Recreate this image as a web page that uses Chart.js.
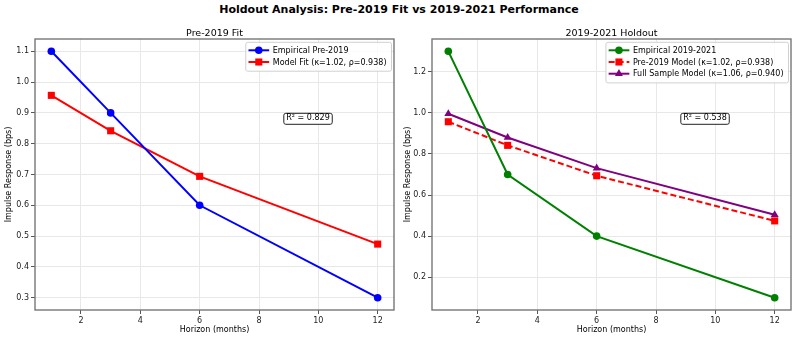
<!DOCTYPE html>
<html>
<head>
<meta charset="utf-8">
<script src="https://cdn.jsdelivr.net/npm/chart.js@4.4.0/dist/chart.umd.min.js"></script>
<style>
  body { margin: 0; background: #fff; }
  #wrap { position: relative; width: 798px; height: 340px; font-family: "DejaVu Sans", sans-serif; }
  #title { position: absolute; left: 0; top: 4px; width: 798px; text-align: center; font-weight: bold; font-size: 11px; line-height: 1.164; color: #000; }
  .panel { position: absolute; top: 20px; width: 399px; height: 320px; }
</style>
</head>
<body>
<div id="wrap">
  <div id="title">Holdout Analysis: Pre-2019 Fit vs 2019-2021 Performance</div>
  <div class="panel" style="left:0"><canvas id="leftChart" width="399" height="320"></canvas></div>
  <div class="panel" style="left:399px"><canvas id="rightChart" width="399" height="320"></canvas></div>
</div>
<script>
// horizons (months)
const horizons = [1, 3, 6, 12];
const xTicks = [2, 4, 6, 8, 10, 12];

// pre-2019 panel
const empiricalPre = [1.1, 0.9, 0.6, 0.3];
const modelFitPre = [0.957, 0.842, 0.694, 0.474];
const yTicksLeft = [0.3, 0.4, 0.5, 0.6, 0.7, 0.8, 0.9, 1.0, 1.1];

// 2019-2021 holdout panel
const empiricalHoldout = [1.3, 0.7, 0.4, 0.1];
const pre2019Model = [0.957, 0.842, 0.694, 0.474];
const fullSampleModel = [0.996, 0.880, 0.731, 0.504];
const yTicksRight = [0.2, 0.4, 0.6, 0.8, 1.0, 1.2];

const FONT = '"DejaVu Sans", sans-serif';
const SPINE = '#777';

const toPoints = vals => horizons.map((h, i) => ({ x: h, y: vals[i] }));

function drawMarker(ctx, style, x, y, r, color) {
  ctx.fillStyle = color;
  ctx.beginPath();
  if (style === 'circle') {
    ctx.arc(x, y, r, 0, Math.PI * 2);
  } else if (style === 'rect') {
    const s = r * Math.SQRT1_2;
    ctx.rect(x - s, y - s, 2 * s, 2 * s);
  } else {
    const h = r * 1.5;
    ctx.moveTo(x, y - h * 2 / 3);
    ctx.lineTo(x + r * 0.866, y + h / 3);
    ctx.lineTo(x - r * 0.866, y + h / 3);
    ctx.closePath();
  }
  ctx.fill();
}

function roundRect(ctx, x, y, w, h, r) {
  ctx.beginPath();
  ctx.moveTo(x + r, y);
  ctx.lineTo(x + w - r, y);
  ctx.quadraticCurveTo(x + w, y, x + w, y + r);
  ctx.lineTo(x + w, y + h - r);
  ctx.quadraticCurveTo(x + w, y + h, x + w - r, y + h);
  ctx.lineTo(x + r, y + h);
  ctx.quadraticCurveTo(x, y + h, x, y + h - r);
  ctx.lineTo(x, y + r);
  ctx.quadraticCurveTo(x, y, x + r, y);
  ctx.closePath();
}

function decorPlugin(subTitle, r2Text, legendItems) {
  return {
    id: 'decor',
    afterDatasetsDraw(chart) {
      const { ctx, chartArea: a } = chart;
      ctx.save();
      // spines
      ctx.strokeStyle = SPINE;
      ctx.lineWidth = 1.4;
      ctx.strokeRect(a.left, a.top, a.right - a.left, a.bottom - a.top);

      // subplot title
      ctx.fillStyle = '#000';
      ctx.font = '9.5px ' + FONT;
      ctx.textAlign = 'center';
      ctx.textBaseline = 'alphabetic';
      ctx.fillText(subTitle, (a.left + a.right) / 2, a.top - 3.5);

      // R² box at axes fraction (0.7, 0.7)
      ctx.font = '8px ' + FONT;
      ctx.textAlign = 'left';
      const tx = a.left + 0.7 * (a.right - a.left);
      const ty = a.bottom - 0.7 * (a.bottom - a.top);
      const tw = ctx.measureText(r2Text).width;
      roundRect(ctx, tx - 2.5, ty - 7, tw + 5, 11, 2);
      ctx.fillStyle = '#fff';
      ctx.fill();
      ctx.strokeStyle = '#222';
      ctx.lineWidth = 1;
      ctx.stroke();
      ctx.fillStyle = '#000';
      ctx.fillText(r2Text, tx, ty);

      // legend, upper right
      let maxW = 0;
      legendItems.forEach(it => { maxW = Math.max(maxW, ctx.measureText(it.label).width); });
      const bw = 27 + maxW + 5;
      const bh = legendItems.length * 11.7 + 5.5;
      const bx = a.right - 2.5 - bw;
      const by = a.top + 3.3;
      roundRect(ctx, bx, by, bw, bh, 2);
      ctx.fillStyle = 'rgba(255,255,255,0.8)';
      ctx.fill();
      ctx.strokeStyle = '#d0d0d0';
      ctx.lineWidth = 1;
      ctx.stroke();
      legendItems.forEach((it, i) => {
        const ry = by + 8 + i * 11.7;
        ctx.strokeStyle = it.color;
        ctx.lineWidth = 2;
        ctx.setLineDash(it.dash || []);
        ctx.beginPath();
        ctx.moveTo(bx + 2.7, ry);
        ctx.lineTo(bx + 23.4, ry);
        ctx.stroke();
        ctx.setLineDash([]);
        drawMarker(ctx, it.style, bx + 13, ry, it.radius, it.color);
        ctx.fillStyle = '#000';
        ctx.textBaseline = 'middle';
        ctx.fillText(it.label, bx + 27, ry + 0.5);
      });
      ctx.restore();
    }
  };
}

function makeChart(id, datasets, yRange, yTicks, yAxisWidth, padRight, subTitle, r2Text) {
  const ctx = document.getElementById(id).getContext('2d');
  const legendItems = datasets.map(d => ({
    label: d.label, color: d.borderColor, style: d.pointStyle, radius: d.pointRadius, dash: d.borderDash
  }));
  return new Chart(ctx, {
    type: 'line',
    data: { datasets },
    options: {
      responsive: false,
      animation: false,
      layout: { padding: { left: 0, right: padRight, top: 19, bottom: 0 } },
      plugins: { legend: { display: false }, tooltip: { enabled: false }, title: { display: false } },
      scales: {
        x: {
          type: 'linear',
          min: 0.45,
          max: 12.55,
          afterBuildTicks: axis => { axis.ticks = xTicks.map(v => ({ value: v })); },
          afterFit: scale => { scale.height = 30; },
          ticks: { font: { family: FONT, size: 8 }, color: '#222', padding: 2, maxRotation: 0 },
          grid: { color: '#e8e8e8', tickColor: '#555', tickLength: 4, lineWidth: 1 },
          border: { display: false },
          title: { display: true, text: 'Horizon (months)', font: { family: FONT, size: 8 }, color: '#000', padding: { top: 4, bottom: 5 } }
        },
        y: {
          type: 'linear',
          min: yRange[0],
          max: yRange[1],
          afterBuildTicks: axis => { axis.ticks = yTicks.map(v => ({ value: v })); },
          afterFit: scale => { scale.width = yAxisWidth; },
          ticks: { font: { family: FONT, size: 8 }, color: '#222', padding: 2, callback: v => v.toFixed(1) },
          grid: { color: '#e8e8e8', tickColor: '#555', tickLength: 4, lineWidth: 1 },
          border: { display: false },
          title: { display: true, text: 'Impulse Response (bps)', font: { family: FONT, size: 8 }, color: '#000', padding: { top: 4, bottom: 4 } }
        }
      }
    },
    plugins: [decorPlugin(subTitle, r2Text, legendItems)]
  });
}

function series(label, vals, color, style, radius, dash) {
  return {
    label,
    data: toPoints(vals),
    borderColor: color,
    backgroundColor: color,
    borderWidth: 2,
    borderDash: dash || [],
    pointStyle: style,
    pointRadius: radius,
    pointBorderWidth: 0,
    pointBackgroundColor: color,
    tension: 0,
    fill: false
  };
}

makeChart('leftChart', [
  series('Empirical Pre-2019', empiricalPre, '#0000ff', 'circle', 3.8),
  series('Model Fit (κ=1.02, ρ=0.938)', modelFitPre, '#ff0000', 'rect', 5),
], [0.26, 1.14], yTicksLeft, 35, 5, 'Pre-2019 Fit', 'R² = 0.829');

makeChart('rightChart', [
  series('Empirical 2019-2021', empiricalHoldout, '#008000', 'circle', 3.8),
  series('Pre-2019 Model (κ=1.02, ρ=0.938)', pre2019Model, '#ff0000', 'rect', 5, [6, 3]),
  series('Full Sample Model (κ=1.06, ρ=0.940)', fullSampleModel, '#800080', 'triangle', 4.6)
], [0.04, 1.36], yTicksRight, 33, 7, '2019-2021 Holdout', 'R² = 0.538');
</script>
</body>
</html>
